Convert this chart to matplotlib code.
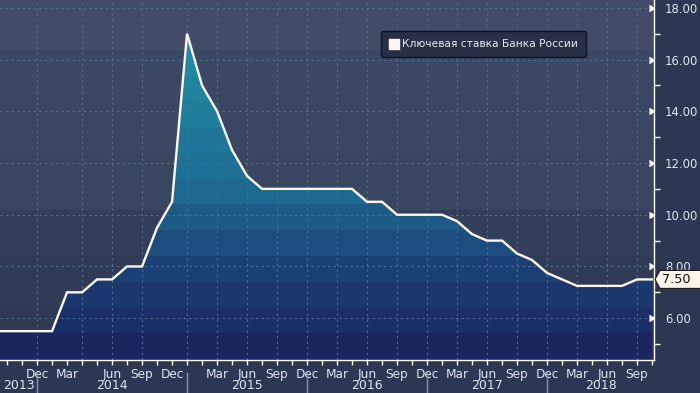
import numpy as np
import matplotlib
matplotlib.use('Agg')
from matplotlib import pyplot as plt
from matplotlib import transforms as mtransforms
from matplotlib.colors import LinearSegmentedColormap, to_rgb
from matplotlib.lines import Line2D
from matplotlib.patches import Polygon

# key rate at each CBR board meeting, plotted by meeting number (Bloomberg "no gaps" axis)
key_rate = [5.5, 5.5, 5.5, 5.5, 5.5, 7.0, 7.0, 7.5, 7.5, 8.0, 8.0, 9.5, 10.5, 17.0, 15.0, 14.0, 12.5, 11.5,
            11.0, 11.0, 11.0, 11.0, 11.0, 11.0, 11.0, 10.5, 10.5, 10.0, 10.0, 10.0, 10.0, 9.75, 9.25, 9.0,
            9.0, 8.5, 8.25, 7.75, 7.5, 7.25, 7.25, 7.25, 7.25, 7.5, 7.5]
meeting = np.arange(len(key_rate)) - 1

month_pos = [2, 4, 7, 9, 11, 14, 16, 18, 20, 22, 24, 26, 28, 30, 32, 34, 36, 38, 40, 42]
month_lbl = ['Dec', 'Mar', 'Jun', 'Sep', 'Dec', 'Mar', 'Jun', 'Sep', 'Dec', 'Mar',
             'Jun', 'Sep', 'Dec', 'Mar', 'Jun', 'Sep', 'Dec', 'Mar', 'Jun', 'Sep']
year_lbl = ['2013', '2014', '2015', '2016', '2017', '2018']
year_breaks = [2, 12, 20, 28, 36]
vgrid_pos = [2, 5, 7, 9, 12, 14, 16, 18, 20, 22, 24, 26, 28, 30, 32, 34, 36, 38, 40, 42]
y_ticks = [6, 8, 10, 12, 14, 16, 18]
last_value = 7.50
legend_label = 'Ключевая ставка Банка России'

xlo, xhi = -0.47, 43.13
ylo, yhi = 4.385, 18.3
txt_col = '#dfe6f0'

fig = plt.figure(figsize=(7, 3.93), dpi=100)
fig.patch.set_facecolor('#2c3751')
ax = fig.add_axes([0, 33 / 393, 654 / 700, 360 / 393])
ax.set_xlim(xlo, xhi)
ax.set_ylim(ylo, yhi)

# banded background
ny = 800
yy = np.linspace(ylo, yhi, ny)
bg_edges = [6.4, 8.4, 10.2, 12.4, 14.4, 16.4]
bg_cols = ['#2e3953', '#303c56', '#333f5a', '#394660', '#3a4762', '#3b4863', '#434c66']
bg = np.array([to_rgb(bg_cols[k]) for k in np.digitize(yy, bg_edges)])[:, None, :]
ax.imshow(bg, extent=(xlo, xhi, ylo, yhi), origin='lower', aspect='auto',
          interpolation='nearest', zorder=0)

# banded gradient fill under the line
cmap = LinearSegmentedColormap.from_list('cbr', [(0, '#1a235c'), (0.29, '#1c4278'),
                                                 (0.52, '#1e6a90'), (1, '#2292aa')])
band = np.floor((yy - 4.4) / 1.0) + 0.5 + 4.4
fill_img = cmap(np.clip((band - 4.4) / 12.6, 0, 1))[:, None, :3]
coll = ax.fill_between(meeting, key_rate, ylo, facecolor='none', edgecolor='none')
im = ax.imshow(fill_img, extent=(xlo, xhi, ylo, yhi), origin='lower', aspect='auto',
               interpolation='nearest', zorder=1)
im.set_clip_path(coll.get_paths()[0], ax.transData)

# grid
for v in y_ticks:
    ax.axhline(v, color='#4d7194', lw=0.8, ls=(0, (2, 3)), zorder=2)
for p in vgrid_pos:
    ax.axvline(p, color='#4d7194', lw=0.8, ls=(0, (2, 3)), zorder=2)

ax.plot(meeting, key_rate, color='#fdf8f0', lw=1.7, zorder=3, solid_joinstyle='miter')

# spines
for s in ['left', 'top']:
    ax.spines[s].set_visible(False)
for s in ['right', 'bottom']:
    ax.spines[s].set_color('white')
    ax.spines[s].set_linewidth(1.0)

# y axis on the right
ax.yaxis.tick_right()
ax.set_yticks(y_ticks)
ax.set_yticklabels(['%.2f' % v for v in y_ticks])
ax.set_yticks([v + 1 for v in y_ticks[:-1]] + [5], minor=True)
ax.tick_params(axis='y', which='major', length=0, pad=8, labelsize=8.4, labelcolor=txt_col)
ax.tick_params(axis='y', which='minor', length=4, width=1, color='white', direction='out')
ax.plot(np.ones(len(y_ticks)), y_ticks, ls='none', marker=5, ms=5, color='white',
        transform=ax.get_yaxis_transform(), clip_on=False, zorder=5)

# x axis
ax.set_xticks(month_pos)
ax.set_xticklabels(month_lbl)
ax.set_xticks(np.arange(0, 44), minor=True)
ax.tick_params(axis='x', which='both', length=3.5, width=1, color='white', direction='out')
ax.tick_params(axis='x', which='major', pad=2, labelsize=8.7, labelcolor=txt_col)

bounds = [xlo] + year_breaks + [xhi]
for k, lbl in enumerate(year_lbl):
    ax.text((bounds[k] + bounds[k + 1]) / 2, -0.072, lbl, transform=ax.get_xaxis_transform(),
            ha='center', va='center', fontsize=9, color=txt_col)
for b in year_breaks:
    ax.plot([b, b], [-0.036, -0.095], color='#8a93a8', lw=1,
            transform=ax.get_xaxis_transform(), clip_on=False)

# last value callout
anchor = mtransforms.ScaledTranslation(1, last_value, ax.get_yaxis_transform())
tag = Polygon([(1, 0), (6, 9), (52, 9), (52, -9), (6, -9)], closed=True,
              transform=mtransforms.Affine2D() + anchor, facecolor='#fff5e8',
              edgecolor='#1a1a1a', lw=0.8, clip_on=False, zorder=6)
ax.add_patch(tag)
ax.text(0, 0, '%.2f' % last_value, transform=mtransforms.Affine2D().translate(8, 0) + anchor,
        ha='left', va='center', fontsize=9.2, color='#111111', zorder=7)

# legend
handle = Line2D([], [], ls='none', marker='s', ms=6.5, color='#fff5ee')
leg = ax.legend([handle], [legend_label], loc='upper left', bbox_to_anchor=(0.583, 0.913),
                borderaxespad=0, fontsize=7.7, frameon=True, fancybox=True, framealpha=1,
                facecolor='#283047', edgecolor='#0e121c', handletextpad=0.3,
                handlelength=0.9, borderpad=0.75)
for t in leg.get_texts():
    t.set_color('#e6ecf5')
leg.set_zorder(8)

fig.savefig('out.png', dpi=100, facecolor=fig.get_facecolor())
